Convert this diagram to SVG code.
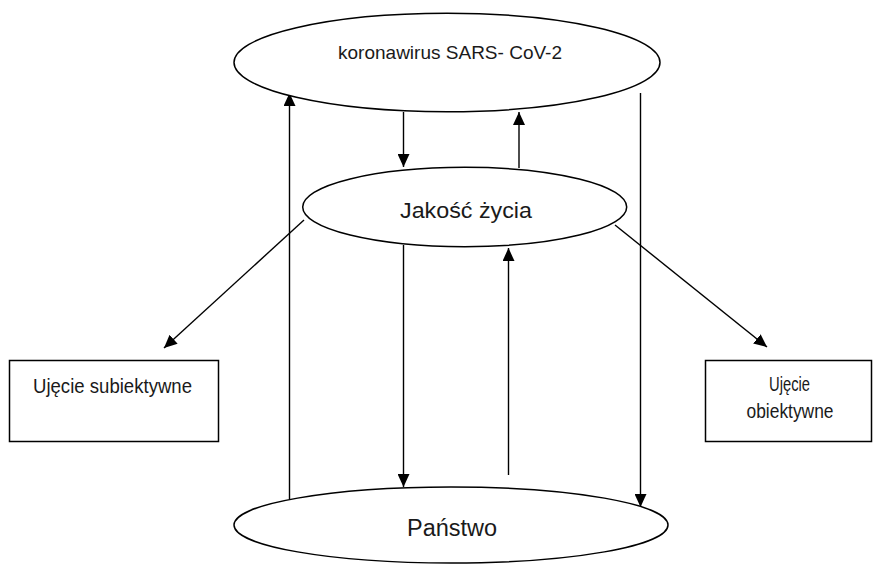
<svg xmlns="http://www.w3.org/2000/svg" width="874" height="564" viewBox="0 0 874 564">
<style>
  .shape { fill: #ffffff; stroke: #000000; stroke-width: 1.5; }
  .lbl { font-family: "Liberation Sans", Arial, sans-serif; fill: #1a1a1a; text-anchor: middle; }
  .edge { stroke: #000000; stroke-width: 1.4; fill: none; }
  .arrow { marker-end: url(#ah); }
</style>
<defs>
  <marker id="ah" markerUnits="userSpaceOnUse" markerWidth="13" markerHeight="12" refX="13" refY="6" orient="auto">
    <path d="M0,0 L13,6 L0,12 Z" fill="#000000"/>
  </marker>
</defs>
<rect width="874" height="564" fill="#ffffff"/>

<g id="connectors">
  <line class="edge arrow" x1="289.5" y1="499" x2="289.5" y2="93"/>
  <line class="edge arrow" x1="640.5" y1="93" x2="640.5" y2="507"/>
  <line class="edge arrow" x1="403.5" y1="112" x2="403.5" y2="167"/>
  <line class="edge arrow" x1="519" y1="168" x2="519" y2="112"/>
  <line class="edge arrow" x1="403.5" y1="245" x2="403.5" y2="487"/>
  <line class="edge arrow" x1="508.5" y1="475" x2="508.5" y2="248"/>
  <line class="edge arrow" x1="304" y1="220" x2="164" y2="348"/>
  <line class="edge arrow" x1="615" y1="225" x2="767" y2="347"/>
</g>

<g id="node-koronawirus">
  <ellipse class="shape" cx="447" cy="62.5" rx="213" ry="49.2"/>
  <text class="lbl" x="450" y="59" font-size="19" textLength="224" lengthAdjust="spacingAndGlyphs">koronawirus SARS- CoV-2</text>
</g>

<g id="node-jakosc">
  <ellipse class="shape" cx="464.7" cy="207" rx="162" ry="39.7"/>
  <text class="lbl" x="466" y="218" font-size="22" textLength="132" lengthAdjust="spacingAndGlyphs">Jakość życia</text>
</g>

<g id="node-panstwo">
  <ellipse class="shape" cx="451" cy="525" rx="217" ry="38"/>
  <text class="lbl" x="452" y="536" font-size="23" textLength="90" lengthAdjust="spacingAndGlyphs">Państwo</text>
</g>

<g id="node-subiektywne">
  <rect class="shape" x="9.5" y="360.5" width="209" height="81"/>
  <text class="lbl" x="112.5" y="393" font-size="20" textLength="159" lengthAdjust="spacingAndGlyphs">Ujęcie subiektywne</text>
</g>

<g id="node-obiektywne">
  <rect class="shape" x="705.5" y="360.5" width="166" height="81"/>
  <text class="lbl" x="789.5" y="391" font-size="20" textLength="41" lengthAdjust="spacingAndGlyphs">Ujęcie</text>
  <text class="lbl" x="790" y="418" font-size="20" textLength="87" lengthAdjust="spacingAndGlyphs">obiektywne</text>
</g>
</svg>
